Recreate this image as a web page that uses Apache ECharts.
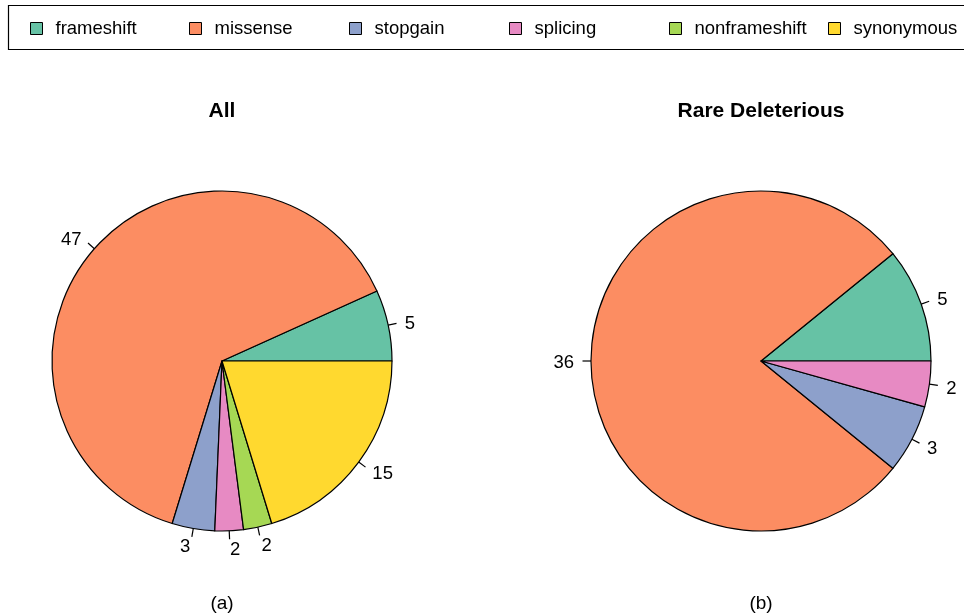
<!DOCTYPE html>
<html>
<head>
<meta charset="utf-8">
<script src="https://cdn.jsdelivr.net/npm/echarts@6/dist/echarts.min.js"></script>
<style>
  html, body { margin: 0; padding: 0; background: #fff; }
  #chart { width: 964px; height: 614px; }
</style>
</head>
<body>
<div id="chart"></div>
<script>
// Variant classes and their Set2 colours
const categories = ['frameshift', 'missense', 'stopgain', 'splicing', 'nonframeshift', 'synonymous'];
const colors = ['#66C2A5', '#FC8D62', '#8DA0CB', '#E78AC3', '#A6D854', '#FFD92F'];

// Counts per class for all variants
const allValues = [5, 47, 3, 2, 2, 15];

// Counts per class for rare deleterious variants
const rareCategories = ['frameshift', 'missense', 'stopgain', 'splicing'];
const rareValues = [5, 36, 3, 2];

const panelTitles = ['All', 'Rare Deleterious'];
const panelTags = ['(a)', '(b)'];

const FONT = 'Liberation Sans, Arial, Helvetica, sans-serif';
const colorOf = name => colors[categories.indexOf(name)];

const PIE_CY = 361;
const PIE_R = 170;

// Short radial tick from the rim to 1.05 r, value text anchored at 1.1 r
function radialLabelLayout(cx) {
  return function (params) {
    const pts = params.labelLinePoints;
    if (!pts || !pts.length) return {};
    const p0 = pts[0];
    const dx = p0[0] - cx, dy = p0[1] - PIE_CY;
    return {
      x: cx + dx * 1.1,
      y: PIE_CY + dy * 1.1 + 2,
      align: dx < 0 ? 'right' : 'left',
      verticalAlign: 'middle',
      labelLinePoints: [
        [p0[0], p0[1]],
        [cx + dx * 1.05, PIE_CY + dy * 1.05],
        [cx + dx * 1.05, PIE_CY + dy * 1.05]
      ]
    };
  };
}

function pieSeries(names, values, cx) {
  return {
    type: 'pie',
    center: [cx, PIE_CY],
    radius: [0, PIE_R],
    startAngle: 0,
    clockwise: false,
    avoidLabelOverlap: false,
    silent: true,
    emphasis: { disabled: true },
    itemStyle: { borderColor: '#000', borderWidth: 1.2 },
    label: {
      show: true,
      position: 'outside',
      formatter: '{c}',
      color: '#000',
      fontFamily: FONT,
      fontSize: 18.5,
      distanceToLabelLine: 0
    },
    labelLine: {
      show: true,
      length: 8.5,
      length2: 0,
      smooth: false,
      lineStyle: { color: '#000', width: 1.2 }
    },
    labelLayout: radialLabelLayout(cx),
    data: names.map((n, i) => ({
      name: n,
      value: values[i],
      itemStyle: { color: colorOf(n) }
    }))
  };
}

// One legend block per class, evenly spaced across the top box
const legendLeft = [25, 184, 344, 504, 664, 823];
const legends = categories.map((n, i) => ({
  show: true,
  data: [n],
  left: legendLeft[i],
  top: 14,
  padding: 5,
  icon: 'rect',
  itemWidth: 12,
  itemHeight: 12,
  selectedMode: false,
  itemStyle: { borderColor: '#000', borderWidth: 1 },
  textStyle: { color: '#000', fontFamily: FONT, fontSize: 18.5, padding: [0, 0, 0, 8] }
}));

const titleStyle = { fontFamily: FONT, fontSize: 21, fontWeight: 'bold', color: '#000' };
const tagStyle = { fontFamily: FONT, fontSize: 19, fontWeight: 'normal', color: '#000' };

const chart = echarts.init(document.getElementById('chart'), null, { renderer: 'canvas' });
chart.setOption({
  animation: false,
  backgroundColor: '#fff',
  color: colors,
  legend: legends,
  title: [
    { text: panelTitles[0], left: 222, top: 101, padding: 0, textAlign: 'center', textStyle: titleStyle },
    { text: panelTitles[1], left: 761, top: 101, padding: 0, textAlign: 'center', textStyle: titleStyle },
    { text: panelTags[0], left: 222, top: 594, padding: 0, textAlign: 'center', textStyle: tagStyle },
    { text: panelTags[1], left: 761, top: 594, padding: 0, textAlign: 'center', textStyle: tagStyle }
  ],
  graphic: [{
    type: 'rect',
    shape: { x: 8.5, y: 5.5, width: 970, height: 44 },
    style: { fill: 'none', stroke: '#000', lineWidth: 1.2 },
    silent: true
  }],
  series: [
    pieSeries(categories, allValues, 222),
    pieSeries(rareCategories, rareValues, 761)
  ]
});
</script>
</body>
</html>
